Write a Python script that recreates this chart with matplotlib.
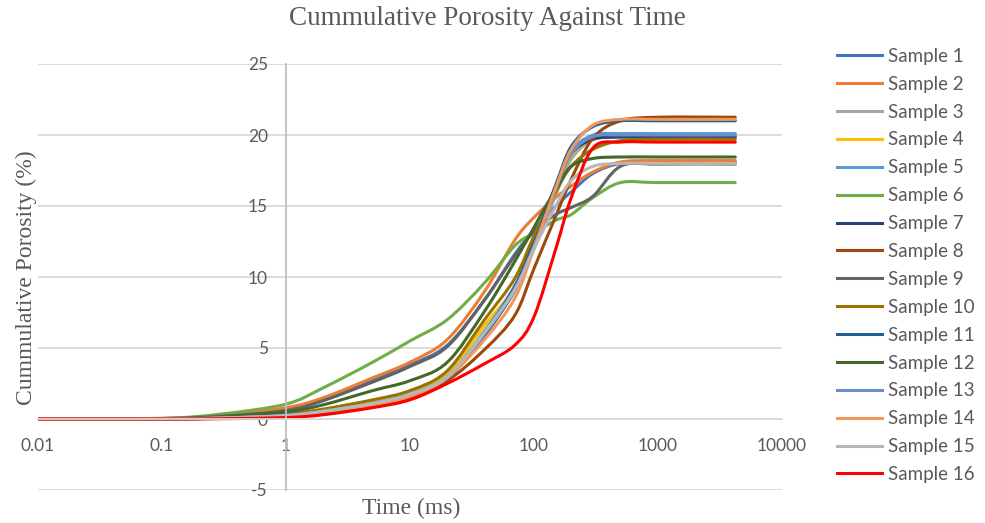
import numpy as np
import matplotlib.pyplot as plt
from matplotlib.path import Path
from matplotlib.patches import PathPatch
from matplotlib.lines import Line2D

# time axis shared by every sample (ms)
time_ms = [0.01, 0.1, 0.3, 1, 2, 5, 10, 20, 40, 70, 100, 150, 200, 300, 500, 1000, 4200]

# cumulative porosity (%)
sample_01 = [0, 0.03, 0.2, 0.65, 1.3, 2.7, 3.8, 5.2, 8.4, 11.6, 13.3, 15.0, 16.0, 17.3, 18.0, 18.1, 18.1]
sample_02 = [0, 0.04, 0.25, 0.8, 1.5, 2.9, 4.0, 5.6, 9.0, 12.6, 14.2, 15.6, 16.4, 17.4, 18.1, 18.2, 18.2]
sample_03 = [0, 0.01, 0.07, 0.25, 0.55, 1.1, 1.7, 3.0, 6.0, 9.0, 12.0, 15.8, 18.3, 19.7, 20.0, 20.0, 20.0]
sample_04 = [0, 0.01, 0.08, 0.3, 0.6, 1.2, 1.85, 3.2, 6.6, 9.3, 12.6, 16.2, 18.6, 19.7, 19.9, 19.9, 19.9]
sample_05 = [0, 0.01, 0.07, 0.25, 0.55, 1.1, 1.8, 3.0, 6.2, 9.4, 12.4, 16.4, 18.9, 20.0, 20.1, 20.1, 20.1]
sample_06 = [0, 0.05, 0.35, 1.05, 2.2, 4.0, 5.5, 7.0, 9.6, 12.2, 13.1, 14.0, 14.4, 15.6, 16.65, 16.65, 16.65]
sample_07 = [0, 0.01, 0.07, 0.25, 0.5, 1.05, 1.7, 2.9, 6.0, 9.3, 12.5, 16.4, 18.7, 19.7, 19.85, 19.85, 19.85]
sample_08 = [0, 0.01, 0.05, 0.2, 0.45, 0.95, 1.5, 2.7, 4.9, 7.3, 10.6, 14.3, 16.9, 19.8, 21.0, 21.25, 21.25]
sample_09 = [0, 0.03, 0.2, 0.6, 1.3, 2.6, 3.7, 5.1, 8.4, 11.5, 13.2, 14.4, 14.9, 15.7, 17.8, 17.95, 17.95]
sample_10 = [0, 0.02, 0.1, 0.35, 0.7, 1.35, 2.0, 3.4, 7.0, 9.9, 12.9, 16.0, 17.8, 19.0, 19.6, 19.7, 19.7]
sample_11 = [0, 0.01, 0.07, 0.25, 0.5, 1.0, 1.7, 2.85, 5.9, 9.1, 12.3, 16.5, 19.2, 20.6, 21.0, 21.0, 21.0]
sample_12 = [0, 0.02, 0.15, 0.5, 1.0, 2.0, 2.7, 4.0, 7.6, 11.1, 13.5, 16.2, 17.8, 18.35, 18.45, 18.45, 18.45]
sample_13 = [0, 0.01, 0.07, 0.25, 0.55, 1.1, 1.75, 2.9, 6.0, 9.2, 12.2, 16.2, 18.7, 19.9, 20.0, 20.0, 20.0]
sample_14 = [0, 0.01, 0.06, 0.22, 0.5, 1.0, 1.6, 2.9, 5.6, 8.5, 12.0, 16.3, 19.0, 20.7, 21.1, 21.1, 21.1]
sample_15 = [0, 0.01, 0.07, 0.25, 0.55, 1.1, 1.75, 3.0, 6.1, 9.1, 12.0, 15.0, 16.8, 17.8, 18.0, 18.0, 18.0]
sample_16 = [0, 0, 0.02, 0.1, 0.3, 0.8, 1.35, 2.5, 3.9, 5.2, 7.2, 12.0, 15.6, 19.1, 19.5, 19.5, 19.5]

samples = [sample_01, sample_02, sample_03, sample_04, sample_05, sample_06, sample_07, sample_08,
           sample_09, sample_10, sample_11, sample_12, sample_13, sample_14, sample_15, sample_16]
labels = ["Sample %d" % (i + 1) for i in range(16)]
colors = ["#4472C4", "#ED7D31", "#A5A5A5", "#FFC000", "#5B9BD5", "#70AD47", "#264478", "#9E480E",
          "#636363", "#997300", "#255E91", "#43682B", "#698ED0", "#F1975A", "#B7B7B7", "#FF0000"]

text_gray = "#595959"
line_w = 2.2


def smooth_path(xs, ys):
    # excel "smoothed line": catmull-rom bezier through the points, in log-x space
    lx = np.log10(xs)
    y = np.asarray(ys, dtype=float)
    px = np.concatenate([[lx[0]], lx, [lx[-1]]])
    py = np.concatenate([[y[0]], y, [y[-1]]])
    verts = [(xs[0], ys[0])]
    codes = [Path.MOVETO]
    for i in range(len(lx) - 1):
        c1x = px[i + 1] + (px[i + 2] - px[i]) / 6
        c1y = py[i + 1] + (py[i + 2] - py[i]) / 6
        c2x = px[i + 2] - (px[i + 3] - px[i + 1]) / 6
        c2y = py[i + 2] - (py[i + 3] - py[i + 1]) / 6
        verts += [(10 ** c1x, c1y), (10 ** c2x, c2y), (xs[i + 1], ys[i + 1])]
        codes += [Path.CURVE4] * 3
    return Path(verts, codes)


fig = plt.figure(figsize=(9.85, 5.23), dpi=100)
ax = fig.add_axes([38 / 985, 1 - 490 / 523, (782 - 38) / 985, (490 - 64) / 523])

ax.set_xscale("log")
ax.set_xlim(0.01, 10000)
ax.set_ylim(-5, 25)

handles = []
for vals, lab, col in zip(samples, labels, colors):
    ax.add_patch(PathPatch(smooth_path(time_ms, vals), fill=False, edgecolor=col, lw=line_w,
                           capstyle="round", joinstyle="round"))
    handles.append(Line2D([], [], color=col, lw=line_w, label=lab))

ax.set_xticks([0.01, 0.1, 1, 10, 100, 1000, 10000])
ax.set_xticklabels(["0.01", "0.1", "1", "10", "100", "1000", "10000"])
ax.minorticks_off()
ax.set_yticks(np.arange(-5, 26, 5))
ax.set_yticklabels([str(v) for v in range(-5, 26, 5)])

# excel-style crossing axes: vertical at x=1, horizontal at y=0
ax.spines["left"].set_position(("data", 1))
ax.spines["bottom"].set_position(("data", 0))
ax.spines["left"].set_color("#BFBFBF")
ax.spines["left"].set_linewidth(1.3)
ax.spines["bottom"].set_color("#D9D9D9")
ax.spines["bottom"].set_linewidth(1.3)
ax.spines["top"].set_visible(False)
ax.spines["right"].set_visible(False)

ax.grid(axis="y", color="#D9D9D9", lw=1.3)
ax.set_axisbelow(True)
ax.tick_params(axis="x", length=0, pad=14, labelsize=12.5, labelcolor=text_gray)
ax.tick_params(axis="y", length=0, pad=13, labelsize=12.5, labelcolor=text_gray)
for t in ax.get_xticklabels() + ax.get_yticklabels():
    t.set_fontfamily("Lato")

fig.text(0.495, 0.965, "Cummulative Porosity Against Time", ha="center", va="center",
         fontsize=19.5, color=text_gray, family="Liberation Serif")
fig.text(0.027, 0.47, "Cummulative Porosity (%)", ha="center", va="center", rotation=90,
         fontsize=17, color=text_gray, family="Liberation Serif")
fig.text(0.417, 0.028, "Time (ms)", ha="center", va="center",
         fontsize=17, color=text_gray, family="Liberation Serif")

leg = fig.legend(handles=handles, loc="upper left", bbox_to_anchor=(820 / 985, 1 - 31 / 523),
                 frameon=False, handlelength=2.4, handletextpad=0.3, labelspacing=0.58,
                 prop={"family": "Lato", "size": 13.5})
for t in leg.get_texts():
    t.set_color(text_gray)

fig.savefig("out.png", dpi=100)
